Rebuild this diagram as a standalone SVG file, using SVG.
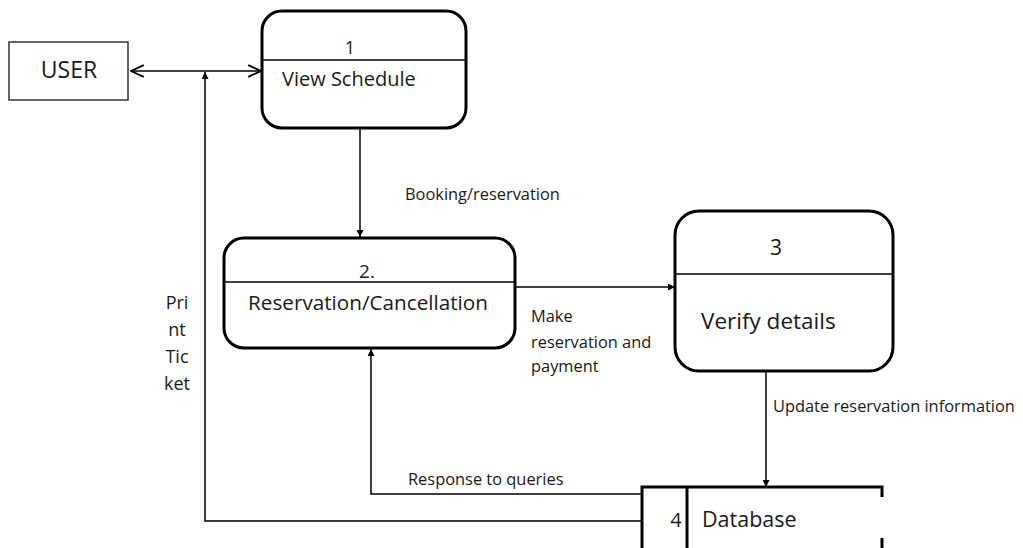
<svg xmlns="http://www.w3.org/2000/svg" width="1023" height="548" viewBox="0 0 1023 548">
<defs>
<style>
text{font-family:"Open Sans","Liberation Sans",Arial,sans-serif;fill:#1a1a1a}
.proc{fill:#fff;stroke:#000;stroke-width:3}
.div{stroke:#000;stroke-width:1.5}
.ln{fill:none;stroke:#000;stroke-width:1.5}
.lbl{font-size:16.4px}
</style>
<marker id="fa" viewBox="0 0 10 10" refX="10" refY="5" markerWidth="7" markerHeight="7" orient="auto" markerUnits="userSpaceOnUse">
<path d="M0,0 L10,5 L0,10 z" fill="#000"/>
</marker>
<marker id="oa" viewBox="0 0 12 12" refX="11" refY="6" markerWidth="14" markerHeight="14" orient="auto-start-reverse" markerUnits="userSpaceOnUse">
<path d="M0,1 L11,6 L0,11" fill="none" stroke="#000" stroke-width="1.5"/>
</marker>
</defs>
<rect width="1023" height="548" fill="#fff"/>
<g id="connectors">
<line class="ln" x1="131" y1="71" x2="261" y2="71" marker-start="url(#oa)" marker-end="url(#oa)"/>
<line class="ln" x1="360" y1="128" x2="360" y2="237" marker-end="url(#fa)"/>
<text class="lbl" x="405" y="200">Booking/reservation</text>
<line class="ln" x1="515" y1="287" x2="675" y2="287" marker-end="url(#fa)"/>
<text class="lbl" x="531" y="322">Make</text>
<text class="lbl" x="531" y="348">reservation and</text>
<text class="lbl" x="531" y="372">payment</text>
<line class="ln" x1="766" y1="372" x2="766" y2="487" marker-end="url(#fa)"/>
<text class="lbl" x="773" y="412">Update reservation information</text>
<polyline class="ln" points="641,494 371,494 371,349" marker-end="url(#fa)"/>
<text class="lbl" x="408" y="485">Response to queries</text>
<polyline class="ln" points="642,521 205,521 205,72" marker-end="url(#fa)"/>
<g style="font-size:18px" text-anchor="middle">
<text x="177" y="309">Pri</text>
<text x="177" y="336">nt</text>
<text x="177" y="363">Tic</text>
<text x="177" y="390">ket</text>
</g>
</g>
<g id="user">
<rect x="9" y="42" width="119" height="58" fill="#fff" stroke="#333" stroke-width="1.5"/>
<text x="69" y="78" font-size="23" text-anchor="middle">USER</text>
</g>
<g id="p1">
<rect class="proc" x="262" y="11" width="204" height="117" rx="20"/>
<line class="div" x1="262" y1="60" x2="466" y2="60"/>
<text x="350" y="54" font-size="18" text-anchor="middle">1</text>
<text x="282" y="86" font-size="20">View Schedule</text>
</g>
<g id="p2">
<rect class="proc" x="224" y="238" width="291" height="110" rx="20"/>
<line class="div" x1="224" y1="282" x2="515" y2="282"/>
<text x="367" y="278" font-size="19" text-anchor="middle">2.</text>
<text x="368" y="310" font-size="20.7" text-anchor="middle">Reservation/Cancellation</text>
</g>
<g id="p3">
<rect class="proc" x="675" y="211" width="218" height="160" rx="24"/>
<line class="div" x1="675" y1="274" x2="893" y2="274"/>
<text x="776" y="255" font-size="21" text-anchor="middle">3</text>
<text x="701" y="329" font-size="22.5">Verify details</text>
</g>
<g id="db">
<path d="M882,497 L882,487 L642,487 L642,548 M687,487 L687,548 M882,538 L882,548" fill="none" stroke="#000" stroke-width="3"/>
<text x="676" y="527" font-size="20" text-anchor="middle">4</text>
<text x="702" y="527" font-size="21.5">Database</text>
</g>
</svg>
